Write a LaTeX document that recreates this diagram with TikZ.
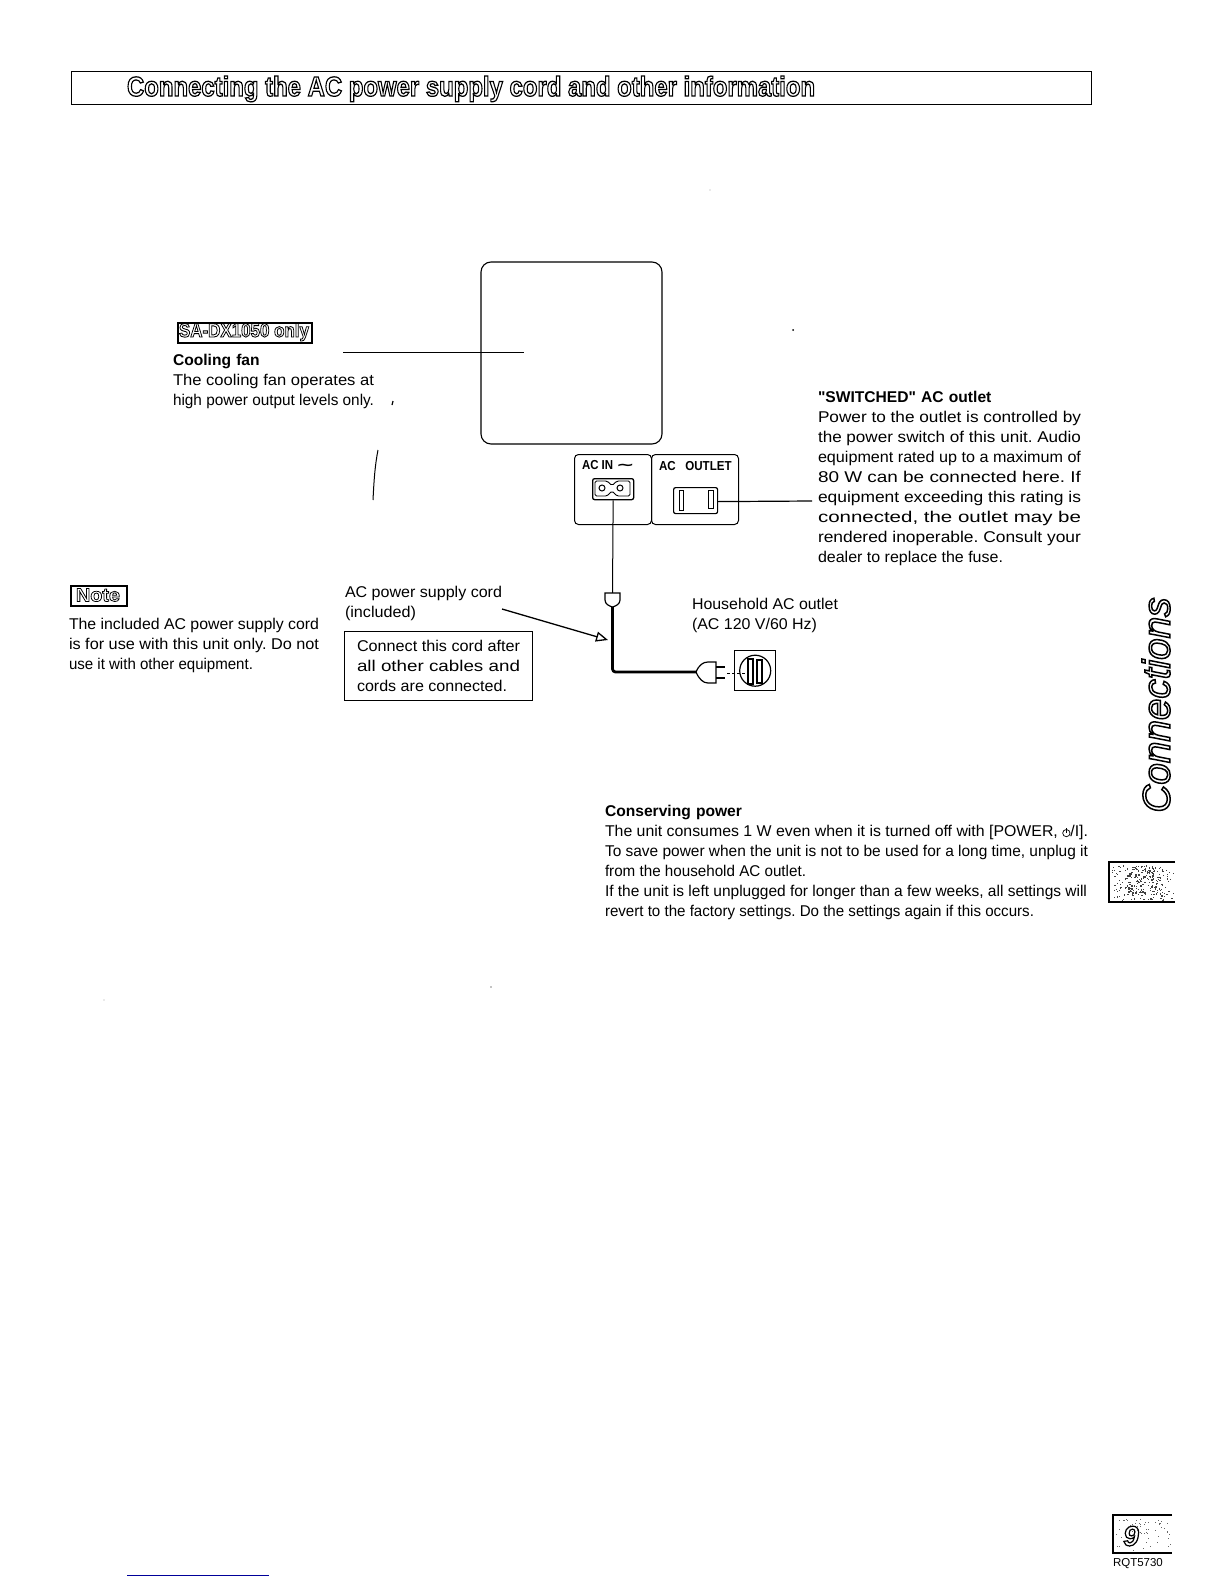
\documentclass[tikz,border=0pt]{standalone}
\usepackage{fontspec}
\usepackage{graphicx}
\setmainfont{Liberation Sans}
\newfontfamily\symfont{DejaVu Sans}
\newfontfamily\qfont{Liberation Sans}
\usetikzlibrary{arrows.meta}
\frenchspacing
\newcommand\outl[2][0.5]{\special{pdf:code 1 Tr #1 w}#2\special{pdf:code 0 Tr 1 w}}
\newcommand\jl[1]{\resizebox{\hsize}{\height}{\spaceskip=0pt \xspaceskip=0pt #1}}
\newcommand\jw[2]{\resizebox{#1pt}{\height}{\spaceskip=0pt \xspaceskip=0pt #2}}
\newcommand\powersym{\tikz[baseline=0pt,x=1pt,y=1pt]{\draw[line width=.7pt] (0,3.6) circle (3.6);\draw[line width=.7pt] (0,3.6) -- (0,8.5);}}
\tikzset{
  x=1pt,y=-1pt,
  body/.style={anchor=north west,inner sep=0pt,outer sep=0pt,align=left,font=\fontsize{15.6}{19.9}\selectfont},
  label/.style={anchor=west,inner sep=0pt,outer sep=0pt},
  thin line/.style={line width=0.9pt,black},
  frame/.style={draw=black,line width=1.3pt,fill=none},
  cord/.style={line width=2.8pt,black,line join=round},
  panel/.style={draw=black,line width=1pt,rounded corners=4pt},
}
\begin{document}
\begin{tikzpicture}
\useasboundingbox (0,0) rectangle (1224,1584);
\fill[white] (0,0) rectangle (1224,1584);
% title
\node[frame,minimum width=1020pt,minimum height=33pt,anchor=north west,inner sep=0pt] (titlebox) at (71,71) {};
\node[label] (title) at (127,89) {\resizebox{688pt}{20pt}{\bfseries\outl[0.45]{Connecting the AC power supply cord and other information}}};
% unit
\draw[line width=1.1pt,rounded corners=10pt] (481,262) rectangle (662,444);
\node[inner sep=0pt] (unit) at (525,352) {};
% fan
\node[frame,anchor=north west,minimum width=134pt,minimum height=20pt,inner sep=0pt,line width=1.8pt] (modelbox) at (177,322) {};
\node[inner sep=0pt] (model) at (244,332) {\resizebox{130pt}{14pt}{\bfseries\outl[0.45]{SA-DX1050 only}}};
\node[body,text width=201pt] (fan) at (173,354.5) {\textbf{Cooling fan}\\\jl{The cooling fan operates at}\\\jw{201}{high power output levels only.}};
\coordinate (fanend) at (343,352);
\draw[thin line] (fanend) -- (unit);
% note
\node[frame,anchor=north west,minimum width=56pt,minimum height=20pt,inner sep=0pt,line width=1.8pt] (notebox) at (70,585) {};
\node[inner sep=0pt] (notelabel) at (98,595) {\resizebox{44pt}{13pt}{\bfseries\outl[0.4]{Note}}};
\node[body,text width=250pt] (note) at (69,618.5) {\jl{The included AC power supply cord}\\\jl{is for use with this unit only. Do not}\\\jw{184}{use it with other equipment.}};
% cord label
\node[body] (cordlabel) at (345,586.5) {\jw{157}{AC power supply cord}\\\jw{71}{(included)}};
\node[frame,anchor=north west,minimum width=188pt,minimum height=69pt,inner sep=0pt] (warnbox) at (344,631) {};
\node[body,text width=163pt] (warn) at (357,640.5) {\jl{Connect this cord after}\\\jl{all other cables and}\\\jw{150}{cords are connected.}};
% panel
\node[panel,anchor=north west,minimum width=77pt,minimum height=70pt,inner sep=0pt] (acin) at (574,454) {};
\node[panel,anchor=north west,minimum width=87pt,minimum height=70pt,inner sep=0pt] (acout) at (651,454) {};
\node[label] at (582,465) (acinlabel) {\fontsize{13}{13}\selectfont\bfseries\scalebox{.88}[1]{AC IN}\hspace{3pt}\scalebox{1.7}[1]{\symfont∼}};
\node[label] at (659,466) (acoutlabel) {\fontsize{13}{13}\selectfont\bfseries\scalebox{.89}[1]{AC\ \ \ OUTLET}};
\node[draw,line width=1.3pt,rounded corners=2pt,anchor=north west,minimum width=41pt,minimum height=21pt,inner sep=0pt] (inlet) at (592,478) {};
\draw[line width=1pt] (602,488) circle (3);
\draw[line width=1pt] (620,488) circle (3);
\draw[line width=.9pt,rounded corners=1.5pt] (595,481) -- (607,481) -- (612,485.5) -- (617,481) -- (630,481) -- (630,496) -- (617,496) -- (612,491) -- (607,496) -- (595,496) -- cycle;
\node[draw,line width=1.2pt,rounded corners=2pt,anchor=north west,minimum width=44pt,minimum height=26pt,inner sep=0pt] (outlet) at (673,487) {};
\draw[line width=1pt] (679,490) rectangle (683,510);
\draw[line width=1pt] (708,490) rectangle (713,508);
\coordinate (switchedend) at (812,501);
\draw[line width=1.2pt] (outlet.east) ++(0,1) -- (switchedend);
% cord
\coordinate (plugtop) at (612.5,593);
\coordinate (plugtip) at (612.5,607);
\coordinate (plugcorner) at (612.5,672);
\draw[line width=1pt] (inlet.south) -- (plugtop);
\draw[line width=1.2pt,fill=white] (605,593) -- (620,593) -- (620,600) .. controls (620,604) and (616,606) .. (plugtip) .. controls (609,606) and (605,604) .. (605,600) -- cycle;
\draw[cord,rounded corners=3pt] (plugtip) -- (plugcorner) -- (696,672);
% wall plug
\draw[line width=1.2pt,fill=white] (696,672) .. controls (699,665) and (703,662) .. (708,662) -- (716,662) -- (716,683) -- (708,683) .. controls (703,683) and (699,679) .. (696,672) -- cycle;
\draw[line width=2.5pt] (716,667) -- (725,667);
\draw[line width=2.5pt] (716,678) -- (725,678);
\node[draw,line width=1.4pt,anchor=north west,minimum width=41pt,minimum height=40pt,inner sep=0pt] (wall) at (734,650) {};
\draw[line width=1.2pt] (wall.center) circle (15.5);
\draw[line width=1.1pt] (748,659) rectangle (753,684);
\draw[line width=1.1pt] (757,660) rectangle (762,683);
\coordinate (walllink) at (727,673);
\coordinate (walllinkend) at (745,673);
\draw[line width=1pt,dash pattern=on 3pt off 2pt] (walllink) -- (walllinkend);
% arrow
\coordinate (arrowstart) at (502,609);
\coordinate (arrowtip) at (608,640);
\draw[line width=1.3pt,-{Triangle[open,fill=white,length=12pt,width=10pt]}] (arrowstart) -- (arrowtip);
% switched text
\node[body,text width=263pt] (switched) at (818,391.5) {{\qfont\bfseries "SWITCHED" AC outlet}\\\jl{Power to the outlet is controlled by}\\\jl{the power switch of this unit. Audio}\\\jl{equipment rated up to a maximum of}\\\jl{80 W can be connected here. If}\\\jl{equipment exceeding this rating is}\\\jl{connected, the outlet may be}\\\jl{rendered inoperable. Consult your}\\\jw{185}{dealer to replace the fuse.}};
\node[body] (household) at (692,598.5) {\jw{146}{Household AC outlet}\\\jw{125}{(AC 120 V/60 Hz)}};
\node[body,text width=483pt] (conserve) at (605,805.5) {\textbf{Conserving power}\\\jw{483}{The unit consumes 1 W even when it is turned off with [POWER, \powersym/I].}\\\jw{483}{To save power when the unit is not to be used for a long time, unplug it}\\\jw{201}{from the household AC outlet.}\\\jw{482}{If the unit is left unplugged for longer than a few weeks, all settings will}\\\jw{429}{revert to the factory settings. Do the settings again if this occurs.}};
% side tab
\node[inner sep=0pt,rotate=90] (connections) at (1156,705) {\fontsize{38.7}{40}\selectfont\itshape\outl[1.5]{Connections}};
\draw[line width=1.4pt] (1175,862) -- (1109,862) -- (1109,902) -- (1175,902);
\pgfmathsetseed{7}
\foreach \i in {1,...,120}{
  \pgfmathsetmacro\px{1112+62*rnd}\pgfmathsetmacro\py{865+35*rnd}
  \fill[black!75] (\px,\py) rectangle ++(1.2,1.2);
}
\foreach \i in {1,...,130}{
  \pgfmathsetmacro\px{1125+38*rnd}\pgfmathsetmacro\py{865+30*rnd}
  \fill[black!75] (\px,\py) rectangle ++(1.3,1.3);
}
% page number
\draw[line width=1.8pt] (1172,1515) -- (1113,1515) -- (1113,1553) -- (1172,1553);
\foreach \i in {1,...,60}{
  \pgfmathsetmacro\px{1116+54*rnd}\pgfmathsetmacro\py{1518+32*rnd}
  \fill[black!60] (\px,\py) rectangle ++(1,1);
}
\node[inner sep=0pt] (pageno) at (1131,1536) {\fontsize{28}{28}\selectfont\bfseries\itshape\outl[1.2]{9}};
\node[label] (code) at (1113,1564) {\fontsize{11.5}{12}\selectfont RQT5730};
% scan marks
\draw[line width=1pt] (378,450) .. controls (375,465) and (374,480) .. (373,500);
\draw[line width=1.2pt] (393,401) -- (392,405);
\fill (793,330) circle (1);
\fill (710,190) circle (.4);
\fill (491,987) circle (.7);
\fill (104,1000) circle (.4);
% bottom rule
\draw[line width=1pt,blue!60!black] (127,1575) -- (269,1575);
\end{tikzpicture}
\end{document}
